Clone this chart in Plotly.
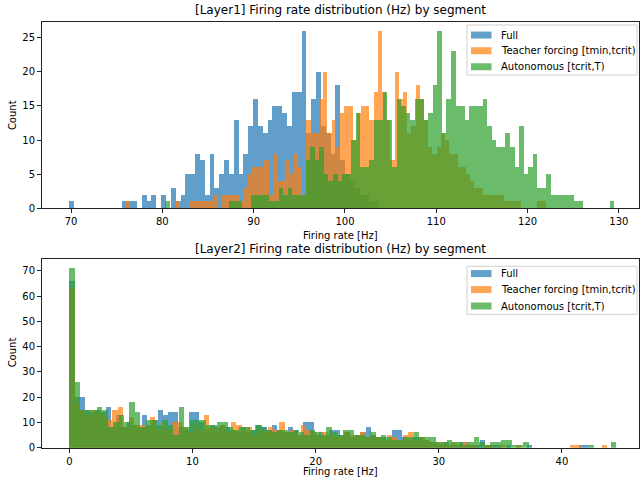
import numpy as np
import plotly.graph_objects as go

series_names = ["Full", "Teacher forcing [tmin,tcrit)", "Autonomous [tcrit,T)"]
series_colors = ["#1f77b4", "#ff7f0e", "#2ca02c"]

# ---------------- Layer 1 (bin edges range + counts per bin) ----------------
l1_full_range = (69.8, 103.72)
l1_full_counts = [
    1, 0, 0, 0, 0, 0, 0, 0, 0, 0,
    0, 1, 1, 1, 0, 2, 1, 2, 0, 2,
    0, 3, 1, 2, 5, 5, 8, 7, 2, 8,
    3, 5, 7, 5, 13, 5, 8, 12, 16, 12,
    11, 13, 15, 15, 14, 12, 17, 17, 26, 11,
    16, 20, 12, 11, 8, 18, 7, 5, 4, 3,
    2, 2, 1, 1,
]
l1_tf_range = (76.0, 122.0)
l1_tf_counts = [
    1, 0, 0, 0, 0, 0, 0, 0, 0, 0,
    0, 0, 1, 0, 0, 1, 1, 1, 1, 1,
    1, 2, 0, 2, 2, 2, 2, 1, 3, 5,
    6, 6, 6, 7, 2, 8, 4, 4, 7, 5,
    8, 6, 2, 13, 11, 11, 16, 20, 11, 13,
    9, 14, 15, 15, 10, 14, 15, 15, 13, 17,
    26, 17, 13, 7, 20, 16, 17, 11, 12, 18,
    16, 13, 9, 8, 9, 11, 10, 8, 8, 6,
    6, 5, 4, 3, 3, 2, 2, 2, 2, 2,
    1, 1, 1, 1, 0, 0, 0, 0, 1, 1,
]
l1_auto_range = (80.3, 130.0)
l1_auto_counts = [
    1, 0, 0, 0, 0, 0, 0, 0, 0, 0,
    0, 0, 0, 0, 1, 1, 1, 0, 0, 2,
    2, 2, 2, 1, 1, 3, 2, 3, 2, 2,
    2, 7, 9, 7, 9, 5, 4, 5, 4, 5,
    5, 10, 14, 6, 6, 7, 13, 13, 17, 13,
    6, 16, 15, 14, 13, 16, 16, 13, 14, 18,
    26, 11, 16, 23, 15, 15, 13, 15, 15, 15,
    16, 12, 10, 9, 9, 11, 9, 6, 12, 5,
    6, 8, 3, 3, 5, 2, 2, 2, 2, 2,
    1, 1, 0, 0, 0, 0, 0, 0, 1, 0,
]

# ---------------- Layer 2 ----------------
l2_full_range = (0.0, 42.2)
l2_full_counts = [
    66, 20, 20, 15, 14, 15, 14, 16, 8, 13,
    8, 10, 9, 8, 13, 9, 11, 15, 13, 14,
    14, 8, 7, 14, 14, 10, 7, 9, 8, 9,
    8, 7, 6, 8, 6, 7, 9, 8, 7, 9,
    7, 6, 8, 7, 5, 10, 10, 5, 6, 5,
    7, 7, 5, 6, 4, 5, 6, 8, 5, 4,
    4, 3, 7, 7, 4, 3, 4, 4, 3, 2,
    2, 1, 2, 1, 1, 2, 2, 1, 1, 3,
    1, 1, 1, 0, 1, 0, 0, 0, 1, 0,
    0, 0, 0, 0, 0, 0, 0, 0, 1, 1,
]
l2_tf_range = (0.0, 43.7)
l2_tf_counts = [
    63, 18, 15, 13, 15, 14, 13, 11, 15, 16,
    8, 12, 9, 9, 8, 12, 7, 10, 7, 10,
    10, 8, 6, 9, 7, 13, 8, 7, 9, 6,
    10, 9, 7, 8, 5, 7, 6, 8, 7, 10,
    6, 7, 5, 9, 7, 6, 4, 6, 5, 5,
    4, 6, 5, 5, 6, 4, 5, 4, 3, 5,
    4, 3, 5, 6, 3, 4, 3, 2, 2, 2,
    1, 2, 1, 2, 1, 1, 0, 1, 1, 0,
    1, 0, 0, 1, 0, 0, 0, 0, 0, 0,
    0, 0, 0, 1, 1, 0, 0, 0, 0, 1,
]
l2_auto_range = (0.0, 44.4)
l2_auto_counts = [
    71, 26, 15, 15, 15, 16, 15, 8, 10, 13,
    10, 18, 14, 8, 11, 11, 9, 11, 9, 5,
    16, 8, 11, 11, 11, 9, 9, 10, 10, 8,
    7, 8, 8, 7, 9, 8, 7, 6, 7, 7,
    6, 7, 6, 5, 7, 6, 5, 8, 6, 5,
    7, 7, 5, 5, 4, 6, 4, 5, 4, 3,
    3, 4, 4, 6, 4, 4, 4, 2, 2, 3,
    2, 2, 1, 2, 4, 2, 1, 2, 2, 3,
    3, 1, 1, 2, 0, 0, 0, 0, 0, 0,
    0, 0, 0, 0, 0, 1, 0, 0, 0, 2,
]

l1_xticks = [70, 80, 90, 100, 110, 120, 130]
l1_yticks = [0, 5, 10, 15, 20, 25]
l2_xticks = [0, 10, 20, 30, 40]
l2_yticks = [0, 10, 20, 30, 40, 50, 60, 70]

titles = ["[Layer1] Firing rate distribution (Hz) by segment",
          "[Layer2] Firing rate distribution (Hz) by segment"]
xlabel = "Firing rate [Hz]"
ylabel = "Count"

W, H = 641, 483
H_EFF = 476.5   # observed effective vertical pixel scale of the rendered page
FONT = "DejaVu Sans"


def bars(rng, counts):
    edges = np.linspace(rng[0], rng[1], len(counts) + 1)
    centers = (edges[:-1] + edges[1:]) / 2
    width = edges[1] - edges[0]
    return centers, counts, width


fig = go.Figure()
panels = [
    ([l1_full_range, l1_tf_range, l1_auto_range],
     [l1_full_counts, l1_tf_counts, l1_auto_counts], "x", "y"),
    ([l2_full_range, l2_tf_range, l2_auto_range],
     [l2_full_counts, l2_tf_counts, l2_auto_counts], "x2", "y2"),
]
for ranges, counts_list, xa, ya in panels:
    for name, color, rng, cnt in zip(series_names, series_colors, ranges, counts_list):
        c, v, w = bars(rng, cnt)
        fig.add_trace(go.Bar(
            x=c, y=v, width=w, name=name, marker=dict(color=color, line=dict(width=0)),
            opacity=0.7, xaxis=xa, yaxis=ya, hoverinfo="skip", showlegend=False,
        ))

px = lambda p: p / W
py = lambda p: 1 - p / H_EFF

axis_common = dict(
    showline=True, mirror=True, linecolor="#222", linewidth=1,
    ticks="outside", ticklen=4, tickcolor="#222", tickwidth=1,
    showgrid=False, zeroline=False,
    tickfont=dict(family=FONT, size=10, color="#000"),
)

fig.update_layout(
    width=W, height=H,
    margin=dict(l=0, r=0, t=0, b=0),
    paper_bgcolor="white", plot_bgcolor="white",
    barmode="overlay", bargap=0,
    font=dict(family=FONT, size=10, color="#000"),
    xaxis=dict(domain=[px(42), px(639)], range=[66.82, 132.2], tickvals=l1_xticks,
               anchor="y", **axis_common),
    yaxis=dict(domain=[py(208), py(22)], range=[0, 27.3], tickvals=l1_yticks,
               anchor="x", **axis_common),
    xaxis2=dict(domain=[px(42), px(639)], range=[-2.22, 46.26], tickvals=l2_xticks,
                anchor="y2", **axis_common),
    yaxis2=dict(domain=[py(447.3), py(259)], range=[0, 74.55], tickvals=l2_yticks,
                anchor="x2", **axis_common),
    showlegend=False,
)


def label(text, x, y, size, angle=0, xanchor="center"):
    return dict(text=text, x=px(x), y=py(y), xref="paper", yref="paper",
                xanchor=xanchor, yanchor="middle", textangle=angle,
                showarrow=False, font=dict(family=FONT, size=size, color="#000"))


annotations = [
    label(titles[0], 340, 10, 12),
    label(titles[1], 340, 249, 12),
    label(xlabel, 340, 235, 10),
    label(xlabel, 340, 471, 10),
    label(ylabel, 12, 115, 10, -90),
    label(ylabel, 12, 352, 10, -90),
]
shapes = []

# matplotlib-style legend boxes (box, colour patches, labels)
for box_top, box_bot, rows in [(25, 75, [35, 50.7, 66.7]),
                               (266, 314, [273.3, 289.3, 305.7])]:
    shapes.append(dict(type="rect", xref="paper", yref="paper",
                       x0=px(467), x1=px(637), y0=py(box_bot), y1=py(box_top),
                       line=dict(color="#d0d0d0", width=1),
                       fillcolor="rgba(255,255,255,0.8)", layer="above"))
    for name, color, ry in zip(series_names, series_colors, rows):
        shapes.append(dict(type="rect", xref="paper", yref="paper",
                           x0=px(471), x1=px(491.5), y0=py(ry + 3.5), y1=py(ry - 3.5),
                           line=dict(width=0), fillcolor=color, opacity=0.7,
                           layer="above"))
        annotations.append(label(name, 499, ry, 10, xanchor="left"))

fig.update_layout(annotations=annotations, shapes=shapes)

fit_page = (
    "var d=document, h=d.documentElement, b=d.body;"
    "h.style.margin='0';h.style.padding='0';h.style.overflow='hidden';"
    "b.style.margin='0';b.style.padding='0';b.style.overflow='hidden';"
)
fig.write_html("out.html", config={"displayModeBar": False}, post_script=fit_page)
